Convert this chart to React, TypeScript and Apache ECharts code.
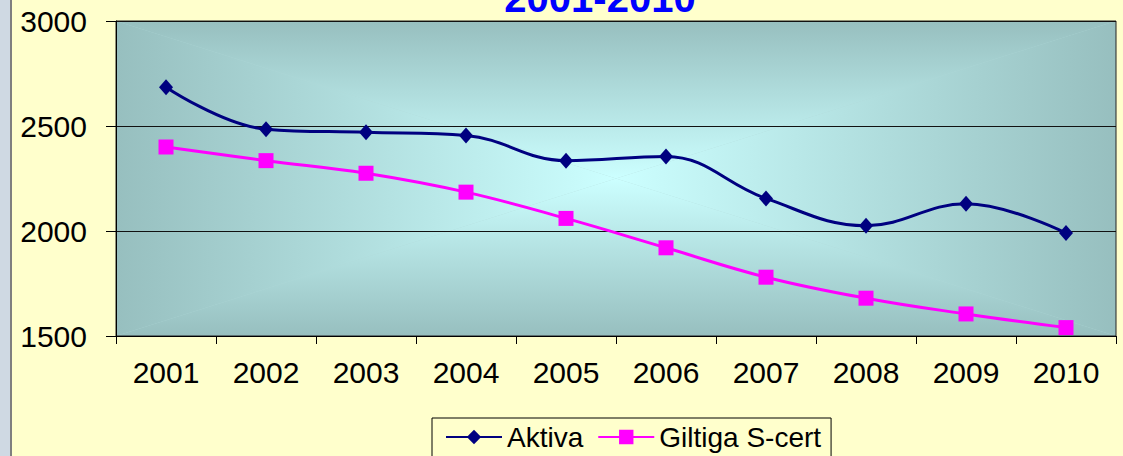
import React, { useEffect, useRef } from "react";
import * as echarts from "echarts";

const categories = ["2001", "2002", "2003", "2004", "2005", "2006", "2007", "2008", "2009", "2010"];
const aktiva = [2685, 2485, 2470, 2455, 2335, 2355, 2155, 2025, 2130, 1990];
const giltiga = [2400, 2335, 2275, 2185, 2060, 1920, 1780, 1680, 1605, 1540];
const yTicks = { min: 1500, max: 3000, interval: 500 };
const titleText = "2001-2010";
const seriesNames = ["Aktiva", "Giltiga S-cert"];

const FONT = "'Liberation Sans', Arial, sans-serif";

// plot area geometry
const PL = 116, PT = 21, PW = 1000, PH = 315;
const CX = PL + PW / 2, CY = PT + PH / 2;
const EDGE = "#97bfbf";
const CENTER = "#ccffff";

function tri(points: number[][], x1: number, y1: number, x2: number, y2: number) {
  return {
    type: "polygon",
    z: -10,
    silent: true,
    shape: { points },
    style: {
      fill: {
        type: "linear", x: x1, y: y1, x2, y2, global: true,
        colorStops: [{ offset: 0, color: CENTER }, { offset: 1, color: EDGE }],
      },
    },
  };
}

export default function App() {
  const ref = useRef<HTMLDivElement>(null);
  useEffect(() => {
    if (!ref.current) return;
    const chart = echarts.init(ref.current, undefined, { renderer: "svg" });
    const TL = [PL, PT], TR = [PL + PW, PT], BR = [PL + PW, PT + PH], BL = [PL, PT + PH], C = [CX, CY];
    chart.setOption({
      animation: false,
      backgroundColor: "#FFFFCC",
      textStyle: { fontFamily: FONT },
      graphic: [
        { type: "rect", z: -20, silent: true, shape: { x: 0, y: 0, width: 10, height: 456 }, style: { fill: "#cfd9e3" } },
        { type: "rect", z: -20, silent: true, shape: { x: 10, y: 0, width: 2, height: 456 }, style: { fill: "#7f7f7f" } },
        { type: "rect", z: -11, silent: true, shape: { x: PL, y: PT, width: PW, height: PH }, style: { fill: "#b0d8d8" } },
        tri([TL, TR, C], 0, CY, 0, PT),
        tri([BL, BR, C], 0, CY, 0, PT + PH),
        tri([TL, BL, C], CX, 0, PL, 0),
        tri([TR, BR, C], CX, 0, PL + PW, 0),
        {
          type: "text", x: 600, y: -2, z: 10,
          style: {
            text: titleText, fill: "#0000ff", fontSize: 40, fontWeight: "bold", fontFamily: FONT,
            align: "center", verticalAlign: "middle",
          },
        },
      ],
      grid: {
        left: PL, top: PT, width: PW, height: PH,
        containLabel: false, outerBoundsMode: "none",
        show: true, backgroundColor: "transparent", borderColor: "#222", borderWidth: 1,
      },
      legend: {
        left: 432, top: 418,
        padding: [5, 10, 20, 13],
        itemGap: 14,
        itemWidth: 56, itemHeight: 18,
        backgroundColor: "transparent",
        borderColor: "#000", borderWidth: 1,
        textStyle: { fontSize: 28, color: "#000", fontFamily: FONT },
        data: seriesNames,
      },
      xAxis: {
        type: "category",
        data: categories,
        boundaryGap: true,
        axisLine: { lineStyle: { color: "#000", width: 1 } },
        axisTick: { show: true, length: 8, inside: false, alignWithLabel: false, lineStyle: { color: "#000" } },
        axisLabel: { fontSize: 30, color: "#000", margin: 21, fontFamily: FONT },
        splitLine: { show: false },
      },
      yAxis: {
        type: "value",
        min: yTicks.min, max: yTicks.max, interval: yTicks.interval,
        axisLine: { show: true, lineStyle: { color: "#000", width: 1 } },
        axisTick: { show: true, length: 10, lineStyle: { color: "#000" } },
        axisLabel: { fontSize: 30, color: "#000", margin: 29, fontFamily: FONT, formatter: (v: number) => String(v) },
        splitLine: { show: true, lineStyle: { color: "#111", width: 1 } },
      },
      series: [
        {
          name: seriesNames[0], type: "line", data: aktiva, smooth: 0.4,
          symbol: "diamond", symbolSize: [14, 16], showAllSymbol: true,
          lineStyle: { color: "#000080", width: 3 },
          itemStyle: { color: "#000080" },
          z: 3,
        },
        {
          name: seriesNames[1], type: "line", data: giltiga, smooth: 0.4,
          symbol: "rect", symbolSize: 15, showAllSymbol: true,
          lineStyle: { color: "#ff00ff", width: 3 },
          itemStyle: { color: "#ff00ff" },
          z: 2,
        },
      ],
    });
    return () => chart.dispose();
  }, []);
  return <div ref={ref} style={{ position: "absolute", left: 0, top: 0, width: 1123, height: 456 }} />;
}
